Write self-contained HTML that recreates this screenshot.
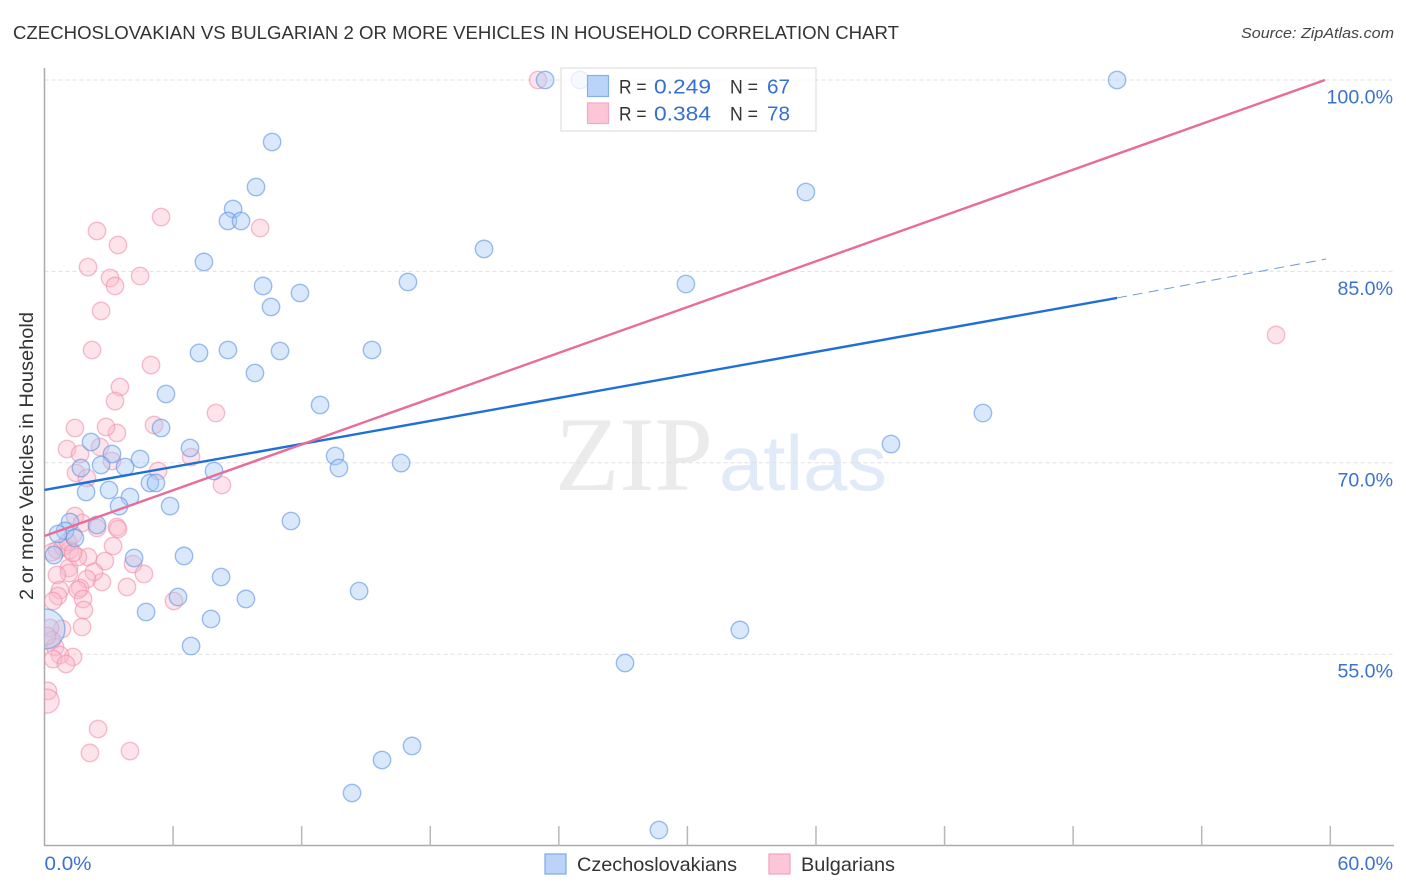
<!DOCTYPE html>
<html lang="en">
<head>
<meta charset="utf-8">
<title>Czechoslovakian vs Bulgarian 2 or more Vehicles in Household Correlation Chart</title>
<style>
html,body{margin:0;padding:0;background:#fff;width:1406px;height:892px;overflow:hidden}
svg{display:block;font-family:"Liberation Sans",sans-serif}
</style>
</head>
<body>
<svg id="chart" xmlns="http://www.w3.org/2000/svg" width="1406" height="892" viewBox="0 0 1406 892">
  <defs><clipPath id="plot-clip"><rect x="44.5" y="60" width="1350" height="786"/></clipPath></defs>
  <rect width="1406" height="892" fill="#fff"/>
  <text x="13" y="39" font-size="18.5" fill="#333" textLength="886" lengthAdjust="spacingAndGlyphs">CZECHOSLOVAKIAN VS BULGARIAN 2 OR MORE VEHICLES IN HOUSEHOLD CORRELATION CHART</text>
  <text x="1394" y="38" font-size="15" font-style="italic" fill="#444" text-anchor="end" textLength="153" lengthAdjust="spacingAndGlyphs">Source: ZipAtlas.com</text>
  <g>
    <text x="555" y="490" font-family="'Liberation Serif',serif" font-size="106" fill="#ebebeb" textLength="158" lengthAdjust="spacingAndGlyphs">ZIP</text>
    <text x="719" y="490" font-size="78" fill="#e1eaf8" textLength="168" lengthAdjust="spacingAndGlyphs">atlas</text>
  </g>
  <g id="grid"></g>
  <g id="axes"></g>
  <g id="points" clip-path="url(#plot-clip)"></g>
  <g id="trends"></g>
  <g id="tick-labels"></g>
  <text transform="translate(33,456) rotate(-90)" font-size="19" fill="#333" text-anchor="middle" textLength="288" lengthAdjust="spacingAndGlyphs">2 or more Vehicles in Household</text>
  <g>
    <rect x="561" y="68" width="255" height="63" fill="#fff" fill-opacity="0.75" stroke="#d8d8d8" stroke-width="1"/>
    <rect x="587.5" y="75.5" width="21" height="21" fill="#b9d4f8" stroke="#82b1ee" stroke-width="1.2"/>
    <rect x="587.5" y="103" width="21" height="20.5" fill="#fcc6d8" stroke="#f6a8c0" stroke-width="1.2"/>
    <text x="619" y="93.5" font-size="19.5" fill="#333" xml:space="preserve" textLength="27.5" lengthAdjust="spacingAndGlyphs">R =</text>
    <text x="654" y="93.5" font-size="20.5" fill="#3570d0" textLength="57" lengthAdjust="spacingAndGlyphs">0.249</text>
    <text x="730" y="93.5" font-size="19.5" fill="#333" textLength="28" lengthAdjust="spacingAndGlyphs">N =</text>
    <text x="767" y="93.5" font-size="20.5" fill="#3570d0" textLength="23" lengthAdjust="spacingAndGlyphs">67</text>
    <text x="619" y="120.5" font-size="19.5" fill="#333" textLength="27.5" lengthAdjust="spacingAndGlyphs">R =</text>
    <text x="654" y="120.5" font-size="20.5" fill="#3570d0" textLength="57" lengthAdjust="spacingAndGlyphs">0.384</text>
    <text x="730" y="120.5" font-size="19.5" fill="#333" textLength="28" lengthAdjust="spacingAndGlyphs">N =</text>
    <text x="767" y="120.5" font-size="20.5" fill="#3570d0" textLength="23" lengthAdjust="spacingAndGlyphs">78</text>
  </g>
  <g>
    <rect x="545" y="854" width="21" height="20" fill="#b9d4f8" stroke="#7fa8e0" stroke-width="1.2"/>
    <text x="577" y="871" font-size="19.5" fill="#333" textLength="160" lengthAdjust="spacingAndGlyphs">Czechoslovakians</text>
    <rect x="769" y="854" width="21" height="20" fill="#fcc6d8" stroke="#f0a4bc" stroke-width="1.2"/>
    <text x="801" y="871" font-size="19.5" fill="#333" textLength="94" lengthAdjust="spacingAndGlyphs">Bulgarians</text>
  </g>
</svg>
<script>
const xTickValues = [0, 6, 12, 18, 24, 30, 36, 42, 48, 54, 60];
const yTickValues = [55, 70, 85, 100];
const xEdgeLabels = ["0.0%", "60.0%"];
const yTickLabels = ["55.0%", "70.0%", "85.0%", "100.0%"];

const czechX = [23.36,24.99,50.05,10.62,9.87,35.53,8.80,8.56,9.17,20.51,7.44,16.96,29.93,10.20,11.92,10.57,7.21,8.56,10.99,15.28,9.82,5.67,12.86,43.79,5.44,2.17,6.79,39.50,13.56,13.74,16.64,7.91,4.46,3.15,3.76,2.64,1.70,4.92,5.20,1.94,3.01,3.99,3.48,5.86,11.50,1.19,2.45,0.96,1.42,0.63,0.44,6.51,4.18,8.24,14.68,9.40,6.23,4.74,7.77,32.45,6.84,27.09,17.15,15.75,14.35,28.67];
const czechY = [100,100,100,95.14,91.61,91.22,89.89,88.95,88.95,86.76,85.74,84.17,84.01,83.86,83.31,82.21,78.61,78.84,78.76,78.84,77.04,75.39,74.53,73.90,72.73,71.63,71.16,71.47,70.53,69.59,69.98,69.36,70.30,70.69,69.67,69.83,69.59,68.42,68.42,67.71,67.87,67.32,66.61,66.61,65.44,65.36,65.13,64.66,64.11,64.42,62.77,62.70,62.54,61.05,59.95,59.33,59.48,58.31,57.76,56.90,55.64,54.31,47.81,46.71,44.12,41.22];
const czechLargeX = [0.02];
const czechLargeY = [56.98];

const bulgarianX = [23.03,5.44,10.06,2.45,3.43,2.03,4.46,3.06,3.29,2.64,2.22,4.97,3.52,3.29,8.00,5.11,3.38,2.87,1.42,1.05,2.59,1.66,3.15,1.47,1.98,5.30,6.84,8.28,57.47,1.42,1.75,2.45,3.38,3.43,3.20,2.82,2.03,4.13,4.64,3.85,2.68,2.31,1.98,1.66,1.56,1.80,1.84,1.75,1.14,1.14,0.58,0.72,0.63,0.40,0.58,1.19,1.56,0.86,6.04,0.82,0.26,0.35,0.49,0.12,1.33,0.72,0.40,1.00,0.16,2.50,2.12,3.99,1.10,1.33,1.33,0.35];
const bulgarianY = [100,89.26,88.40,88.17,87.07,85.34,84.64,84.48,83.86,81.90,78.84,77.66,75.94,74.84,73.90,72.96,72.34,72.81,72.73,71.08,71.24,70.69,70.14,69.20,68.81,69.36,70.45,68.26,80.02,65.83,65.28,64.89,64.97,64.81,63.48,62.30,62.62,62.07,61.29,60.27,60.66,61.44,60.89,60.19,60.03,59.33,58.46,57.13,61.76,61.36,61.21,60.03,59.56,59.17,63.17,63.17,62.62,63.40,59.17,56.98,57.05,56.11,55.56,56.43,54.78,54.94,54.62,54.23,52.12,49.14,47.26,47.41,63.80,64.34,62.93,63.00];
const bulgarianLargeX = [0.12];
const bulgarianLargeY = [51.33];

const czechTrendSolidX = [0, 50.05];
const czechTrendSolidY = [67.87, 82.92];
const czechTrendDashX = [50.05, 59.8];
const czechTrendDashY = [82.92, 85.97];
const bulgarianTrendX = [0, 59.75];
const bulgarianTrendY = [64.26, 100];

const NS = "http://www.w3.org/2000/svg";
const xScale = v => 44.5 + v * 21.43;
const yScale = v => 80 + (100 - v) * 12.76;

function make(parentId, tag, attrs) {
  const el = document.createElementNS(NS, tag);
  for (const k in attrs) el.setAttribute(k, attrs[k]);
  document.getElementById(parentId).appendChild(el);
  return el;
}

yTickValues.forEach(function (v) {
  const line = make("grid", "line", {x1: 44.5, x2: 1394, y1: yScale(v), y2: yScale(v), stroke: "#e0e0e0", "stroke-width": 1, "stroke-dasharray": "4 3"});
  
  
});

const yAxis = make("axes", "line", {x1: 44.5, x2: 44.5, y1: 68, y2: 846, stroke: "#aaa", "stroke-width": 1.5});


const xAxis = make("axes", "line", {x1: 44, x2: 1394, y1: 845.5, y2: 845.5, stroke: "#aaa", "stroke-width": 1.5});


xTickValues.slice(1).forEach(function (v) {
  const tick = make("axes", "line", {x1: xScale(v), x2: xScale(v), y1: 826, y2: 846, stroke: "#b8b8b8", "stroke-width": 1.5});
  
  
});

function drawPoints(xs, ys, r, fill, stroke, fillOpacity, strokeOpacity, name) {
  xs.forEach(function (x, i) {
    const c = make("points", "circle", {cx: xScale(x), cy: yScale(ys[i]), r: r, fill: fill, "fill-opacity": fillOpacity, stroke: stroke, "stroke-opacity": strokeOpacity, "stroke-width": 1.4});
    
    
  });
}
drawPoints(bulgarianX, bulgarianY, 8.7, "#f9b8ca", "#ee8aa8", 0.4, 0.55, "bulgarian-point");
drawPoints(bulgarianLargeX, bulgarianLargeY, 12, "#f9b8ca", "#ee8aa8", 0.4, 0.55, "bulgarian-point-large");
drawPoints(czechX, czechY, 8.7, "#a8c8f5", "#5f95e2", 0.42, 0.6, "czechoslovakian-point");
drawPoints(czechLargeX, czechLargeY, 20, "#a8c8f5", "#5f95e2", 0.42, 0.6, "czechoslovakian-point-large");

function drawLine(xs, ys, attrs, name) {
  const l = make("trends", "line", Object.assign({x1: xScale(xs[0]), y1: yScale(ys[0]), x2: xScale(xs[1]), y2: yScale(ys[1])}, attrs));
  
  
}
drawLine(czechTrendDashX, czechTrendDashY, {stroke: "#6f9ad6", "stroke-width": 1, "stroke-dasharray": "10 6"}, "czechoslovakian-trend-projection");
drawLine(czechTrendSolidX, czechTrendSolidY, {stroke: "#1f6fd8", "stroke-width": 2.4}, "czechoslovakian-trend-line");
drawLine(bulgarianTrendX, bulgarianTrendY, {stroke: "#e96b98", "stroke-width": 2.4}, "bulgarian-trend-line");

yTickValues.forEach(function (v, i) {
  const t = make("tick-labels", "text", {x: 1393, y: yScale(v) + 23.5, "text-anchor": "end", "font-size": 19.6, fill: "#3b71d1"});
  t.textContent = yTickLabels[i];
  
  
});
const xLabelStart = make("tick-labels", "text", {x: xScale(xTickValues[0]), y: 870, "font-size": 19.6, fill: "#3b71d1", textLength: 47, lengthAdjust: "spacingAndGlyphs"});
xLabelStart.textContent = xEdgeLabels[0];


const xLabelEnd = make("tick-labels", "text", {x: 1393, y: 870, "text-anchor": "end", "font-size": 19.6, fill: "#3b71d1"});
xLabelEnd.textContent = xEdgeLabels[1];


</script>
</body>
</html>
